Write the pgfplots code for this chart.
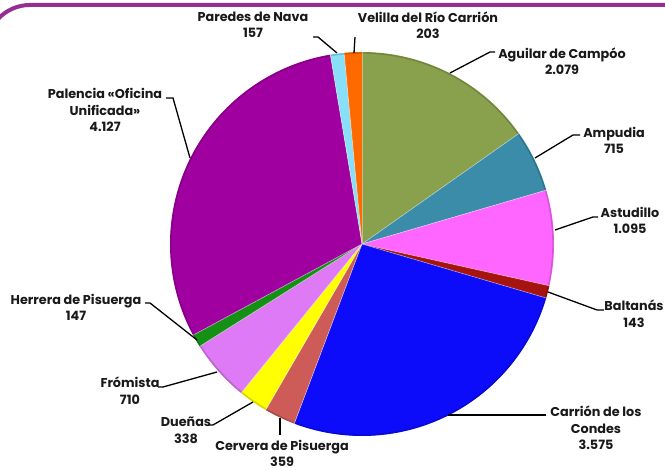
\documentclass[border=0pt]{standalone}
\usepackage{pgfplots}
\pgfplotsset{compat=1.18}
\usepackage{pgfplotstable}
\usepackage{fontspec}
\setmainfont{Poppins}

\pgfplotstableread{
name value
Aguilar 2079
Ampudia 715
Astudillo 1095
Baltanas 143
Carrion 3575
Cervera 359
Duenas 338
Fromista 710
Herrera 147
Palencia 4127
Paredes 157
Velilla 203
}\piedata

\definecolor{c0}{RGB}{137,160,76}
\definecolor{c1}{RGB}{58,140,168}
\definecolor{c2}{RGB}{255,102,255}
\definecolor{c3}{RGB}{165,20,15}
\definecolor{c4}{RGB}{12,12,250}
\definecolor{c5}{RGB}{205,92,88}
\definecolor{c6}{RGB}{255,255,0}
\definecolor{c7}{RGB}{222,122,245}
\definecolor{c8}{RGB}{20,145,20}
\definecolor{c9}{RGB}{160,0,160}
\definecolor{c10}{RGB}{136,224,248}
\definecolor{c11}{RGB}{255,106,0}
\definecolor{frame}{RGB}{150,45,145}

\gdef\total{0}
\foreach \i in {0,...,11}{%
  \pgfplotstablegetelem{\i}{value}\of\piedata
  \pgfmathsetmacro\t{\total+\pgfplotsretval}%
  \xdef\total{\t}%
}
\gdef\cum{0}
\foreach \i in {0,...,11}{%
  \pgfplotstablegetelem{\i}{value}\of\piedata
  \pgfmathsetmacro\s{90-\cum/\total*360}%
  \pgfmathsetmacro\nc{\cum+\pgfplotsretval}%
  \pgfmathsetmacro\e{90-\nc/\total*360}%
  \expandafter\xdef\csname sa\i\endcsname{\s}%
  \expandafter\xdef\csname ea\i\endcsname{\e}%
  \xdef\cum{\nc}%
}

\begin{document}
\begin{tikzpicture}
\begin{axis}[
  scale only axis, width=665pt, height=470pt,
  xmin=0, xmax=665, ymin=0, ymax=470,
  hide axis, clip=true, anchor=south west, at={(0,0)},
]
\draw[frame, line width=4pt, rounded corners=43.5pt] (axis cs:-13.5,-40) -- (axis cs:-13.5,465) -- (axis cs:700,465);
\pgfplotsinvokeforeach{0,...,11}{
  \fill[c#1] (axis cs:362,226) -- ++(\csname sa#1\endcsname:192pt) arc[start angle=\csname sa#1\endcsname, end angle=\csname ea#1\endcsname, radius=192pt] -- cycle;
  \draw[c#1!72!black, line width=1.4pt, opacity=0.6] ([shift={(\csname sa#1\endcsname:191pt)}]axis cs:362,226) arc[start angle=\csname sa#1\endcsname, end angle=\csname ea#1\endcsname, radius=191pt];
  \draw[white, line width=0.7pt, opacity=0.45] (axis cs:362,226) -- ++(\csname sa#1\endcsname:192pt);
}
\begin{scope}[black, line width=1.3pt]
\draw (axis cs:313,433) -- (axis cs:318,433) -- (axis cs:337,417);
\draw (axis cs:355,433) -- (axis cs:354,417);
\draw (axis cs:450,397) -- (axis cs:490,418) -- (axis cs:495,418);
\draw (axis cs:535,312) -- (axis cs:573,335) -- (axis cs:580,335);
\draw (axis cs:555,240) -- (axis cs:593,253) -- (axis cs:598,253);
\draw (axis cs:548,178) -- (axis cs:597,160) -- (axis cs:604,160);
\draw (axis cs:448,55) -- (axis cs:546,55);
\draw (axis cs:280,52) -- (axis cs:280,35);
\draw (axis cs:208,45) -- (axis cs:213,45) -- (axis cs:253,68);
\draw (axis cs:158,83) -- (axis cs:163,83) -- (axis cs:217,98);
\draw (axis cs:145,167) -- (axis cs:150,167) -- (axis cs:197,130);
\draw (axis cs:166,372) -- (axis cs:173,372) -- (axis cs:190,312);
\end{scope}
\begin{scope}[every node/.style={align=center, font=\fontsize{12.8}{16.5}\selectfont\bfseries, text=black!90, inner sep=0pt}]
\node at (axis cs:253,445) {Paredes de Nava\\157};
\node at (axis cs:428,445) {Velilla del Río Carrión\\203};
\node at (axis cs:562,409) {Aguilar de Campóo\\2.079};
\node at (axis cs:614,329.5) {Ampudia\\715};
\node at (axis cs:630,249.5) {Astudillo\\1.095};
\node at (axis cs:634,156.5) {Baltanás\\143};
\node at (axis cs:596,42) {Carrión de los\\Condes\\3.575};
\node at (axis cs:282,16.5) {Cervera de Pisuerga\\359};
\node at (axis cs:186,39.5) {Dueñas\\338};
\node at (axis cs:130,79.5) {Frómista\\710};
\node at (axis cs:76,162.5) {Herrera de Pisuerga\\147};
\node at (axis cs:105,360) {Palencia «Oficina\\Unificada»\\4.127};
\end{scope}
\end{axis}
\pgfresetboundingbox
\path[use as bounding box] (0,0) rectangle (665pt,470pt);
\end{tikzpicture}
\end{document}
